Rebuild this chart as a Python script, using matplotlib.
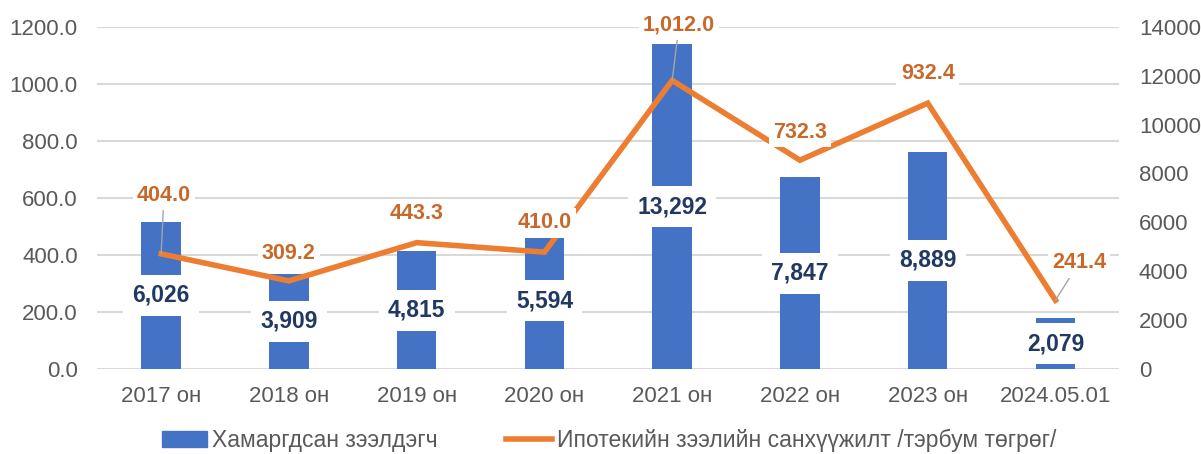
import matplotlib.pyplot as plt
from matplotlib.patches import Patch
from matplotlib.lines import Line2D
import numpy as np

plt.rcParams['font.family'] = ['Liberation Sans', 'DejaVu Sans']

# data
categories = ['2017 он', '2018 он', '2019 он', '2020 он', '2021 он', '2022 он', '2023 он', '2024.05.01']
borrowers = [6026, 3909, 4815, 5594, 13292, 7847, 8889, 2079]
financing = [404.0, 309.2, 443.3, 410.0, 1012.0, 732.3, 932.4, 241.4]
bar_name = 'Хамаргдсан зээлдэгч'
line_name = 'Ипотекийн зээлийн санхүүжилт /тэрбум төгрөг/'

BLUE = '#4472C4'
ORANGE = '#ED7D31'
ORANGE_TXT = '#C8692A'
NAVY = '#203864'
GREY = '#595959'
GRID = '#D9D9D9'

x = np.arange(len(categories))

fig = plt.figure(figsize=(12.01, 4.54), dpi=100)
ax = fig.add_axes([0.081, 0.187, 0.851, 0.754])
ax2 = ax.twinx()
ax3 = ax.twinx()

# left axis: gridlines and tick labels for the line
ax.set_xlim(-0.5, len(categories) - 0.5)
ax.set_ylim(0, 1200)
ax.set_yticks(np.arange(0, 1201, 200))
ax.set_yticklabels([f'{v:.1f}' for v in np.arange(0, 1201, 200)])
ax.grid(axis='y', color=GRID, lw=1.5)
ax.set_axisbelow(True)
ax.set_xticks(x)
ax.set_xticklabels(categories)
ax.tick_params(axis='both', length=0, labelsize=16, colors=GREY)
ax.tick_params(axis='y', pad=14)
ax.tick_params(axis='x', pad=12)

# right axis: bars
ax2.set_ylim(0, 14000)
ax2.set_yticks(np.arange(0, 14001, 2000))
ax2.tick_params(axis='y', length=0, labelsize=16, colors=GREY, pad=14)
ax2.bar(x, borrowers, width=0.31, color=BLUE)
for xi, v in zip(x, borrowers):
    ax2.text(xi, v / 2, f'{v:,}', ha='center', va='center', fontsize=16.5,
             fontweight='bold', color=NAVY,
             bbox=dict(boxstyle='square,pad=0.4', fc='white', ec='none'))

# overlay axis for the line, same scale as the left axis
ax3.set_ylim(ax.get_ylim())
ax3.yaxis.set_visible(False)
ax3.plot(x, financing, color=ORANGE, lw=4, solid_joinstyle='miter')

offsets = [(2, 42), (0, 20), (0, 21), (0, 21), (5, 40), (0, 20), (0, 21), (17, 27)]
leaders = [True, False, False, False, True, False, False, True]
for xi, v, off, lead in zip(x, financing, offsets, leaders):
    arrow = dict(arrowstyle='-', color='#A6A6A6', lw=1, shrinkA=0, shrinkB=0) if lead else None
    ax3.annotate(f'{v:,.1f}', (xi, v), xytext=off, textcoords='offset points',
                 ha='center', va='center', fontsize=15.5, fontweight='bold',
                 color=ORANGE_TXT, arrowprops=arrow, zorder=5,
                 bbox=dict(boxstyle='square,pad=0.2', fc='white', ec='none'))

for a in (ax, ax2, ax3):
    for s in a.spines.values():
        s.set_visible(False)

handles = [Patch(color=BLUE), Line2D([], [], color=ORANGE, lw=4)]
fig.legend(handles, [bar_name, line_name], loc='center', bbox_to_anchor=(0.507, 0.03),
           ncol=2, frameon=False, fontsize=16.5, labelcolor=GREY, handlelength=2.0,
           handletextpad=0.2, columnspacing=3)

fig.savefig('out.png', dpi=100)
